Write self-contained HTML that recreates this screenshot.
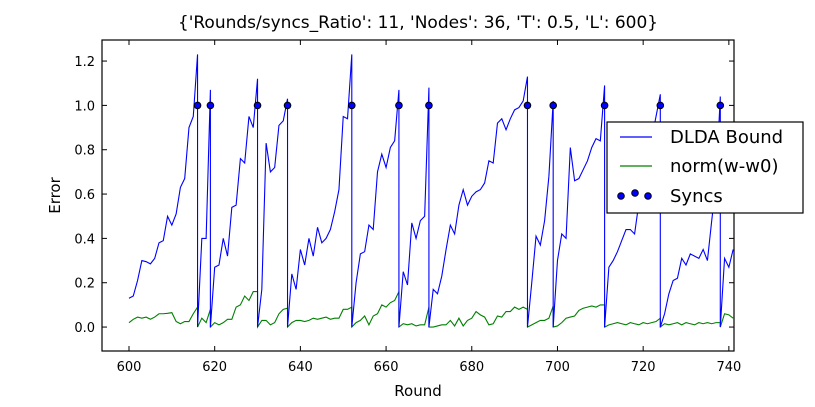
<!DOCTYPE html>
<html><head><meta charset="utf-8"><style>
body{margin:0;background:#fff;}
svg{display:block;font-family:"DejaVu Sans","Liberation Sans",sans-serif;}
</style></head><body>
<svg id="chart" width="815" height="407"></svg>
<script>
const startRound = 600;
const blueValues = [0.13,0.14,0.21,0.30,0.295,0.285,0.31,0.38,0.39,0.50,0.46,0.51,0.63,0.67,0.90,0.95,1.23,
0.40,0.40,1.07,
0.27,0.28,0.40,0.32,0.54,0.55,0.76,0.74,0.95,0.90,1.12,
0.17,0.83,0.70,0.72,0.91,0.93,1.03,
0.24,0.17,0.35,0.28,0.40,0.32,0.45,0.38,0.40,0.44,0.52,0.62,0.95,0.94,1.23,
0.20,0.33,0.34,0.46,0.44,0.70,0.78,0.72,0.81,0.84,1.07,
0.25,0.19,0.47,0.40,0.48,0.50,1.08,
0.17,0.15,0.23,0.35,0.46,0.42,0.55,0.62,0.55,0.59,0.61,0.62,0.65,0.75,0.74,0.92,0.94,0.89,0.94,0.98,0.99,1.02,1.13,
0.20,0.41,0.37,0.48,0.68,1.02,
0.30,0.42,0.40,0.81,0.66,0.67,0.71,0.75,0.81,0.85,0.84,1.09,
0.27,0.30,0.34,0.39,0.44,0.44,0.42,0.56,0.65,0.75,0.85,0.95,1.05,
0.06,0.15,0.21,0.22,0.31,0.28,0.33,0.32,0.31,0.35,0.30,0.48,0.65,1.04,
0.31,0.27,0.35];
const greenValues = [0.02,0.035,0.045,0.04,0.045,0.035,0.045,0.06,0.06,0.062,0.065,0.025,0.015,0.025,0.025,0.06,0.09,
0.04,0.02,0.08,
0.02,0.01,0.02,0.035,0.035,0.09,0.10,0.14,0.12,0.16,0.16,
0.03,0.03,0.01,0.02,0.06,0.08,0.085,
0.02,0.03,0.03,0.025,0.03,0.04,0.035,0.04,0.045,0.035,0.04,0.04,0.08,0.08,0.09,
0.02,0.03,0.05,0.01,0.05,0.06,0.10,0.09,0.11,0.12,0.16,
0.015,0.01,0.015,0.005,0.01,0.01,0.09,
0.0,0.005,0.01,0.01,0.03,0.005,0.04,0.005,0.03,0.04,0.07,0.055,0.045,0.01,0.015,0.05,0.045,0.07,0.07,0.09,0.08,0.09,0.08,
0.01,0.02,0.03,0.03,0.04,0.095,
0.005,0.02,0.04,0.045,0.05,0.075,0.085,0.09,0.095,0.09,0.10,0.10,
0.01,0.015,0.02,0.015,0.01,0.02,0.015,0.01,0.02,0.015,0.02,0.025,0.04,
0.015,0.01,0.015,0.02,0.01,0.02,0.015,0.01,0.02,0.015,0.02,0.015,0.02,0.02,
0.06,0.055,0.04];
const syncRounds = [616,619,630,637,652,663,670,693,699,711,724,738];
const syncValue = 1.0;
const xTicks = [600,620,640,660,680,700,720,740];
const yTicks = [0.0,0.2,0.4,0.6,0.8,1.0,1.2];

const L=102,R=734,T=40,B=351;
const xMin=593.7,xMax=741.2,yMin=-0.108,yMax=1.295;
const X=v=>L+(v-xMin)/(xMax-xMin)*(R-L);
const Y=v=>B-(v-yMin)/(yMax-yMin)*(B-T);
const NS="http://www.w3.org/2000/svg";
const svg=document.getElementById('chart');
function mk(tag,attrs,parent){const e=document.createElementNS(NS,tag);for(const k in attrs)e.setAttribute(k,attrs[k]);(parent||svg).appendChild(e);return e;}

const clip=mk('clipPath',{id:'pc'});mk('rect',{x:L,y:T,width:R-L,height:B-T},clip);

function linePath(vals){
  let d='';
  vals.forEach((v,i)=>{const r=startRound+i;d+=(d?'L':'M')+X(r).toFixed(2)+','+Y(v).toFixed(2);
    if(syncRounds.includes(r)) d+='L'+X(r).toFixed(2)+','+Y(0).toFixed(2);});
  return d;
}
const g=mk('g',{'clip-path':'url(#pc)'});
const gl=mk('path',{d:linePath(greenValues),fill:'none',stroke:'#008000','stroke-width':1.1},g);


const bl=mk('path',{d:linePath(blueValues),fill:'none',stroke:'#0000ff','stroke-width':1.1},g);


syncRounds.forEach(r=>{
  const c=mk('circle',{cx:X(r),cy:Y(syncValue),r:3.3,fill:'#0000ff',stroke:'#000','stroke-width':1});
  
  
});

const frame=mk('rect',{x:L,y:T,width:R-L,height:B-T,fill:'none',stroke:'#000','stroke-width':1.2});



xTicks.forEach(t=>{
  const x=X(t);
  mk('line',{x1:x,x2:x,y1:B,y2:B-5,stroke:'#000'});
  mk('line',{x1:x,x2:x,y1:T,y2:T+5,stroke:'#000'});
  const tx=mk('text',{x:x,y:B+20,'text-anchor':'middle','font-size':13});tx.textContent=t;
  
  
});
yTicks.forEach(t=>{
  const y=Y(t);
  mk('line',{x1:L,x2:L+5,y1:y,y2:y,stroke:'#000'});
  mk('line',{x1:R,x2:R-5,y1:y,y2:y,stroke:'#000'});
  const tx=mk('text',{x:L-7,y:y+5,'text-anchor':'end','font-size':13});tx.textContent=t.toFixed(1);
  
  
});

const title=mk('text',{x:(L+R)/2,y:28,'text-anchor':'middle','font-size':17});
title.textContent="{'Rounds/syncs_Ratio': 11, 'Nodes': 36, 'T': 0.5, 'L': 600}";


const xt=mk('text',{x:(L+R)/2,y:396,'text-anchor':'middle','font-size':15});xt.textContent='Round';


const yt=mk('text',{x:0,y:0,'text-anchor':'middle','font-size':15,transform:`translate(60,${(T+B)/2}) rotate(-90)`});yt.textContent='Error';



const lg=mk('g',{});


mk('rect',{x:607,y:122,width:196,height:91,fill:'#fff',stroke:'#000','stroke-width':1.2},lg);
mk('line',{x1:620,x2:652,y1:137,y2:137,stroke:'#0000ff','stroke-width':1.2},lg);
mk('line',{x1:620,x2:652,y1:166,y2:166,stroke:'#008000','stroke-width':1.2},lg);
[621,635,648].forEach((cx,i)=>mk('circle',{cx:cx,cy:i==1?193:196,r:3.3,fill:'#0000ff',stroke:'#000'},lg));
[['DLDA Bound',143,'legend-entry-dlda'],['norm(w-w0)',172,'legend-entry-norm'],['Syncs',202,'legend-entry-syncs']].forEach(([s,y,n])=>{
  const t=mk('text',{x:670,y:y,'font-size':18},lg);t.textContent=s;
  
  
});
</script>
</body></html>
